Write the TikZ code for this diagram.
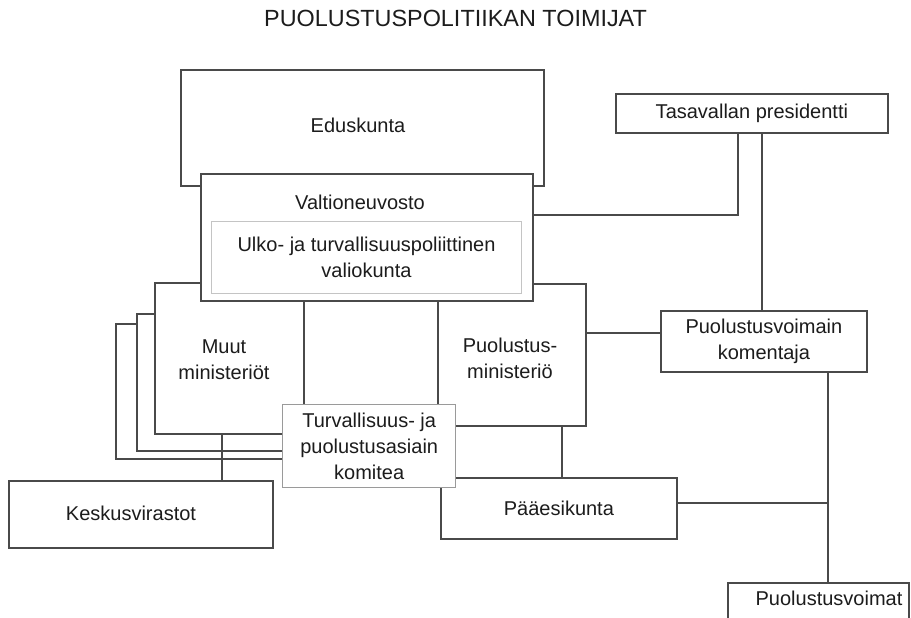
\documentclass[tikz,border=0pt]{standalone}
\usepackage{fontspec}
\setmainfont{Liberation Sans}
\definecolor{ink}{HTML}{1C1C1C}
\definecolor{linegray}{HTML}{4A4A4A}
\definecolor{softgray}{HTML}{9A9A9A}
\definecolor{palegray}{HTML}{C4C4C4}
\begin{document}
\begin{tikzpicture}[x=1pt,y=-1pt,
  box/.style={draw=linegray, line width=1.8pt, fill=white, inner sep=0pt,
    anchor=north west, text=ink, align=center, font=\fontsize{20}{26}\selectfont},
  lbl/.style={inner sep=0pt, text=ink, align=center, font=\fontsize{20}{26}\selectfont},
  link/.style={draw=linegray, line width=1.8pt},
]
\useasboundingbox (0,0) rectangle (911,618);
\clip (0,0) rectangle (911,618);

% heading
\node[inner sep=0pt, text=ink, font=\fontsize{23.4}{28}\selectfont] (title) at (455.5,18) {PUOLUSTUSPOLITIIKAN TOIMIJAT};

% parliament
\node[box, minimum width=363pt, minimum height=116pt] (edus) at (180,69) {};
\node[lbl] (eduslbl) at (358,125) {Eduskunta};

% stacked ministries
\node[box, minimum width=188pt, minimum height=135pt] (muut3) at (115,323) {};
\node[box, minimum width=167pt, minimum height=137pt] (muut2) at (136,313) {};
\node[box, minimum width=149pt, minimum height=151pt] (muut) at (154,282) {};
\node[lbl] (muutlbl) at (224,360) {Muut\\ministeriöt};

% ministry of defence
\node[box, minimum width=148pt, minimum height=142pt] (pmin) at (437,283) {};
\node[lbl] (pminlbl) at (510,358) {Puolustus-\\ministeriö};

% government with its committee
\node[box, minimum width=332pt, minimum height=127pt] (valtio) at (200,173) {};
\node[lbl] (valtiolbl) at (360,202) {Valtioneuvosto};
\node[box, draw=palegray, line width=1pt, minimum width=310pt, minimum height=72pt] (utva) at (211,221)
  {Ulko- ja turvallisuuspoliittinen\\valiokunta};

% defence command
\node[box, minimum width=236pt, minimum height=61pt] (paa) at (440,477) {Pääesikunta};

% security committee
\node[box, draw=softgray, line width=1.4pt, minimum width=173pt, minimum height=83pt] (tpak) at (282,404)
  {Turvallisuus- ja\\puolustusasiain\\komitea};

% central agencies
\node[box, minimum width=264pt, minimum height=67pt] (kesk) at (8,480) {};
\node[lbl] (kesklbl) at (131,513) {Keskusvirastot};

% president and defence forces
\node[box, minimum width=272pt, minimum height=39pt] (presid) at (615,93) {Tasavallan presidentti};
\node[box, minimum width=206pt, minimum height=61pt] (komen) at (660,310) {Puolustusvoimain\\komentaja};
\node[box, minimum width=181pt, minimum height=50pt] (pvoim) at (727,582) {};
\node[lbl] (pvoimlbl) at (829,598) {Puolustusvoimat};

% connectors
\draw[link] (valtio.east |- 0,215) -| (presid.south -| 738,0);
\draw[link] (komen.north -| 762,0) -- (presid.south -| 762,0);
\draw[link] (pmin.east |- 0,333) -- (komen.west |- 0,333);
\draw[link] (muut.south -| 222,0) -- (kesk.north -| 222,0);
\draw[link] (pmin.south -| 562,0) -- (paa.north -| 562,0);
\draw[link] (komen.south -| 828,0) -- (pvoim.north -| 828,0);
\coordinate (joint) at (828,503);
\draw[link] (paa.east |- joint) -- (joint);
\end{tikzpicture}
\end{document}
